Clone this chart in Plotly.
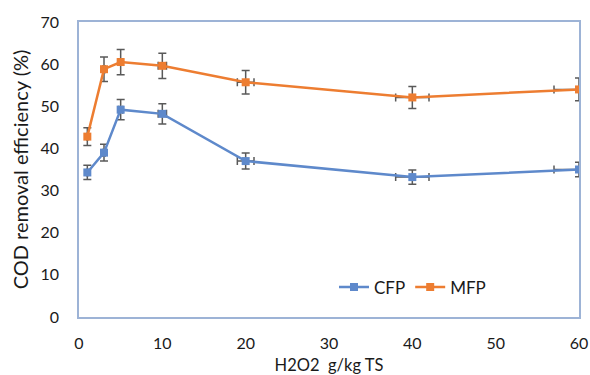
import plotly.graph_objects as go

dose = [1, 3, 5, 10, 20, 40, 60]
cfp = [34.3, 39.0, 49.2, 48.2, 37.0, 33.2, 35.0]
mfp = [42.8, 58.8, 60.5, 59.6, 55.7, 52.1, 54.0]
cfp_err = [1.7, 2.0, 2.4, 2.4, 1.9, 1.7, 1.7]
mfp_err = [2.1, 2.9, 3.0, 3.0, 2.8, 2.6, 2.7]
dose_err = [0.05, 0.15, 0.25, 0.5, 1.0, 2.0, 3.0]

blue = "#5E89CB"
orange = "#ED7D31"
ecol = "#595959"
font = "Lato, Open Sans, sans-serif"

fig = go.Figure()
for name, y, err, col in [("CFP", cfp, cfp_err, blue), ("MFP", mfp, mfp_err, orange)]:
    fig.add_trace(go.Scatter(
        x=dose, y=y, name=name, mode="lines+markers",
        line=dict(color=col, width=2.5),
        marker=dict(symbol="square", size=8, color=col),
        error_y=dict(type="data", array=err, color=ecol, thickness=1.5, width=4),
        error_x=dict(type="data", array=dose_err, color=ecol, thickness=1.5, width=4),
    ))

fig.update_layout(
    width=590, height=375,
    margin=dict(l=79, r=11, t=22, b=58),
    paper_bgcolor="white", plot_bgcolor="white",
    font=dict(family=font, size=16, color="#1a1a1a"),
    showlegend=True,
    legend=dict(orientation="h", x=0.51, y=0.10, xanchor="left", yanchor="middle",
                font=dict(size=17), bgcolor="rgba(0,0,0,0)", itemwidth=30),
    xaxis=dict(range=[0, 60], tickvals=[0, 10, 20, 30, 40, 50, 60],
               showgrid=False, zeroline=False, showline=True, mirror=True,
               linecolor="#9DB3D6", linewidth=1.5, ticks="", ticklabelstandoff=11,
               ticklabeloverflow="allow", automargin=False,
               title=dict(text="H2O2  g/kg TS", font=dict(size=16.5), standoff=10)),
    yaxis=dict(range=[0, 70], tickvals=[0, 10, 20, 30, 40, 50, 60, 70],
               showgrid=False, zeroline=False, showline=True, mirror=True,
               linecolor="#9DB3D6", linewidth=1.5, ticks="", ticklabelstandoff=15,
               automargin=False,
               title=dict(text="COD removal efficiency (%)", font=dict(size=20), standoff=6)),
)

fig.write_html(
    "out.html",
    config={"displayModeBar": False},
    post_script="document.body.style.margin='0';document.body.style.overflow='hidden';",
)
